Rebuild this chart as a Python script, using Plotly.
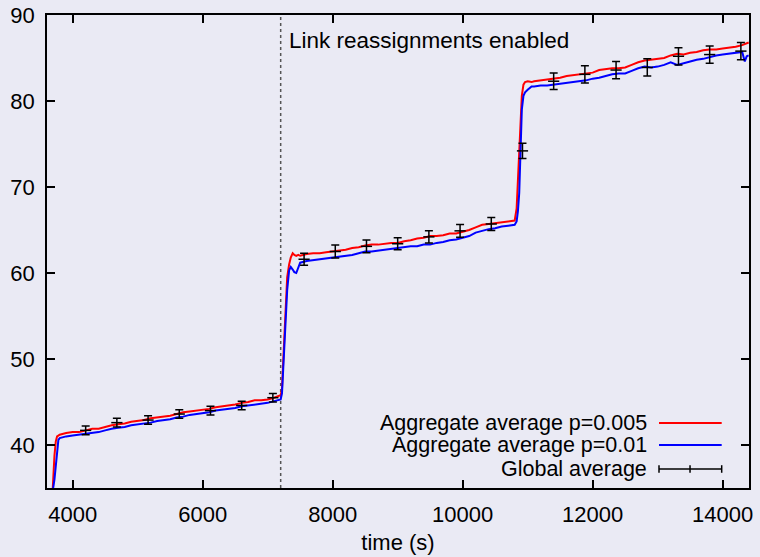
import plotly.graph_objects as go

# Sampling times (s) for the aggregate curves, split by phase
t_rise = [3680, 3700, 3720, 3740, 3760, 3780, 3800]
t_phase1 = list(range(3900, 7201, 100))
t_jump1 = [7220, 7240, 7260, 7280, 7300, 7330, 7355, 7385, 7410, 7440, 7470, 7500]
t_phase2 = list(range(7600, 10801, 100))
t_jump2 = [10830, 10850, 10870, 10890, 10910, 10935, 10960, 11000, 11060]
t_phase3 = list(range(11100, 14301, 100))
t_tail = [14340, 14370, 14400]

# Aggregate average, p=0.005
red_rise = [33.0, 36.3, 38.8, 40.4, 41.0, 41.1, 41.2]
red_phase1 = [41.4, 41.5, 41.5, 41.7, 41.9, 41.9, 42.1, 42.3, 42.4, 42.5,
              42.7, 42.8, 42.9, 43.1, 43.2, 43.3, 43.4, 43.6, 43.8, 43.9,
              44.0, 44.1, 44.2, 44.4, 44.5, 44.6, 44.7, 44.9, 45.0, 45.2,
              45.2, 45.3, 45.5, 45.8]
red_jump1 = [46.5, 49.9, 53.5, 57.0, 59.5, 61.0, 61.8, 62.3, 62.1, 62.0, 62.1, 62.0]
red_phase2 = [62.2, 62.3, 62.3, 62.4, 62.5, 62.6, 62.7, 62.9, 63.0, 63.2,
              63.3, 63.3, 63.4, 63.5, 63.5, 63.7, 63.8, 64.0, 64.1, 64.3,
              64.3, 64.4, 64.6, 64.6, 64.8, 65.0, 65.3, 65.6, 65.7, 65.8,
              65.9, 66.0, 66.1]
red_jump2 = [67.5, 71.0, 75.1, 78.5, 80.6, 81.9, 82.2, 82.3, 82.2]
red_phase3 = [82.3, 82.4, 82.5, 82.6, 82.7, 82.9, 83.0, 83.1, 83.2, 83.3,
              83.6, 83.7, 83.8, 83.8, 83.9, 84.2, 84.5, 84.7, 84.8, 84.9,
              85.0, 85.3, 85.5, 85.4, 85.6, 85.7, 85.9, 86.0, 86.0, 86.1,
              86.2, 86.3, 86.5]
red_tail = [86.6, 86.7, 86.8]

# Aggregate average, p=0.01
blue_rise = [32.0, 35.0, 36.0, 37.5, 39.5, 40.6, 40.8]
blue_phase1 = [41.0, 41.1, 41.2, 41.3, 41.4, 41.5, 41.7, 41.9, 42.0, 42.1,
               42.3, 42.4, 42.5, 42.6, 42.8, 42.9, 43.0, 43.2, 43.3, 43.5,
               43.6, 43.7, 43.8, 44.0, 44.1, 44.2, 44.3, 44.5, 44.6, 44.7,
               44.8, 44.9, 45.1, 45.3]
blue_jump1 = [46.0, 49.0, 52.8, 55.5, 58.0, 60.3, 60.7, 60.4, 60.1, 60.0, 60.6, 61.2]
blue_phase2 = [61.4, 61.5, 61.6, 61.7, 61.8, 61.9, 62.0, 62.1, 62.3, 62.5,
               62.5, 62.6, 62.7, 62.8, 62.9, 63.0, 63.1, 63.1, 63.3, 63.3,
               63.5, 63.6, 63.8, 63.9, 64.1, 64.3, 64.7, 64.9, 65.1, 65.2,
               65.4, 65.5, 65.6]
blue_jump2 = [66.0, 67.2, 69.3, 73.1, 79.0, 80.6, 81.0, 81.3, 81.7]
blue_phase3 = [81.7, 81.8, 81.8, 81.9, 82.0, 82.1, 82.2, 82.3, 82.4, 82.6,
               82.7, 82.9, 83.1, 83.2, 83.2, 83.5, 83.8, 84.0, 83.9, 84.0,
               84.2, 84.5, 84.2, 84.4, 84.6, 84.8, 84.9, 85.1, 85.3, 85.4,
               85.5, 85.6, 85.7]
blue_tail = [84.6, 85.2, 85.3]

# Global average with error bars
global_t = [4200, 4680, 5160, 5640, 6120, 6600, 7080, 7560, 8040, 8520, 9000,
            9480, 9960, 10440, 10920, 11400, 11880, 12360, 12840, 13320, 13800, 14280]
global_avg = [41.7, 42.6, 42.9, 43.6, 44.0, 44.6, 45.5, 61.6, 62.5, 63.1, 63.4,
              64.2, 64.9, 65.7, 74.2, 82.3, 83.1, 83.6, 83.9, 85.2, 85.4, 85.8]
global_err = [0.5, 0.5, 0.5, 0.5, 0.5, 0.5, 0.5, 0.7, 0.75, 0.75, 0.7,
              0.7, 0.75, 0.75, 0.9, 0.95, 1.0, 1.0, 1.0, 1.0, 1.0, 1.0]

reassign_time = 7200
x_ticks = [4000, 6000, 8000, 10000, 12000, 14000]
x_tick_text = ["4000", "6000", "8000", "10000", "12000", "14000"]
y_ticks = [40, 50, 60, 70, 80, 90]

legend_labels = ["Aggregate average p=0.005", "Aggregate average p=0.01", "Global average"]

t_all = t_rise + t_phase1 + t_jump1 + t_phase2 + t_jump2 + t_phase3 + t_tail
red_all = red_rise + red_phase1 + red_jump1 + red_phase2 + red_jump2 + red_phase3 + red_tail
blue_all = blue_rise + blue_phase1 + blue_jump1 + blue_phase2 + blue_jump2 + blue_phase3 + blue_tail

FONT = "Liberation Sans, Arial, sans-serif"
BG = "#eaeaf4"

fig = go.Figure()
fig.add_trace(go.Scatter(x=t_all, y=red_all, mode="lines", name=legend_labels[0],
                         line=dict(color="#ff0000", width=2)))
fig.add_trace(go.Scatter(x=t_all, y=blue_all, mode="lines", name=legend_labels[1],
                         line=dict(color="#0000ff", width=2)))
fig.add_trace(go.Scatter(x=global_t, y=global_avg, mode="markers", name=legend_labels[2],
                         marker=dict(symbol="line-ew", size=8, color="black",
                                     line=dict(color="black", width=1.5)),
                         error_y=dict(type="data", array=global_err, color="black",
                                      thickness=1.5, width=4)))

# Vertical marker where link reassignments start
fig.add_shape(type="line", xref="x", yref="paper", x0=reassign_time, x1=reassign_time,
              y0=0, y1=1, line=dict(color="#555555", width=1.5, dash="dot"), layer="below")
fig.add_annotation(x=reassign_time, y=87.0, xref="x", yref="y", xanchor="left",
                   yanchor="middle", xshift=6, showarrow=False,
                   text="Link reassignments enabled",
                   font=dict(family=FONT, size=22.5, color="black"))

# Key in the lower right corner: text right-aligned, samples to its right
key_y = [0.1374, 0.0909, 0.0402]
key_colors = ["#ff0000", "#0000ff", "black"]
x_text, x0, x1, xm = 0.858, 0.8718, 0.9611, 0.9160
for label, ky, col in zip(legend_labels, key_y, key_colors):
    fig.add_annotation(x=x_text, y=ky, xref="paper", yref="paper", xanchor="right",
                       yanchor="middle", showarrow=False, text=label,
                       font=dict(family=FONT, size=21.5, color="black"))
    fig.add_shape(type="line", xref="paper", yref="paper", x0=x0, x1=x1, y0=ky, y1=ky,
                  line=dict(color=col, width=2 if col != "black" else 1.5))
for xt in (x0, xm, x1):
    fig.add_shape(type="line", xref="paper", yref="paper", x0=xt, x1=xt,
                  y0=key_y[2] - 0.008, y1=key_y[2] + 0.008,
                  line=dict(color="black", width=1.5))

axis_common = dict(showline=True, linecolor="black", linewidth=1.5, mirror="allticks",
                   ticks="inside", ticklen=8, tickwidth=1.5, tickcolor="black",
                   showgrid=False, zeroline=False, automargin=False,
                   tickfont=dict(family=FONT, size=22, color="black"))

fig.update_layout(
    width=760, height=557,
    margin=dict(l=47, r=11, t=15, b=69),
    paper_bgcolor=BG, plot_bgcolor=BG,
    showlegend=False,
    xaxis=dict(range=[3605, 14405], tickvals=x_ticks, ticktext=x_tick_text,
               ticklabelstandoff=6,
               title=dict(text="time (s)", standoff=8,
                          font=dict(family=FONT, size=22, color="black")),
               **axis_common),
    yaxis=dict(range=[35, 90], tickvals=y_ticks, ticklabelstandoff=6, **axis_common),
)

fig.write_html("out.html")
